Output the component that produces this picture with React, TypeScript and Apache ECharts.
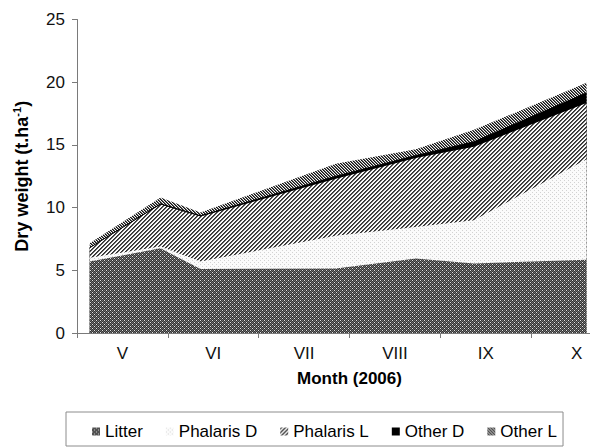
import { useEffect, useRef } from "react";
import * as echarts from "echarts";

// Month bands on the category axis
const months = ["V", "VI", "VII", "VIII", "IX", "X"];
// Sampling dates, expressed in months after 1 May 2006
const sampleMonths = [0.14, 0.92, 1.36, 2.85, 3.73, 4.37, 5.61];
// Dry weight per component (t/ha), stacked bottom to top
const litter = [5.7, 6.75, 5.1, 5.15, 5.95, 5.55, 5.85];
const phalarisD = [0.3, 0.15, 0.6, 2.6, 2.5, 3.45, 8.0];
const phalarisL = [0.8, 3.35, 3.6, 4.55, 5.5, 5.85, 4.5];
const otherD = [0.0, 0.05, 0.05, 0.2, 0.2, 0.4, 0.8];
const otherL = [0.35, 0.5, 0.25, 1.0, 0.5, 0.95, 0.8];
// Value axis range
const yMin = 0;
const yMax = 25;
const yStep = 5;

const FONT = "'Liberation Sans', Arial, Helvetica, sans-serif";
const AXIS_GRAY = "#7a7a7a";

// Builds a small repeating pixel tile used as a fill pattern
function tile(size: number, pick: (x: number, y: number) => string) {
  const c = document.createElement("canvas");
  c.width = size;
  c.height = size;
  const ctx = c.getContext("2d")!;
  for (let y = 0; y < size; y++) {
    for (let x = 0; x < size; x++) {
      ctx.fillStyle = pick(x, y);
      ctx.fillRect(x, y, 1, 1);
    }
  }
  return { image: c, repeat: "repeat", imageWidth: size, imageHeight: size } as any;
}

export default function App() {
  const ref = useRef<HTMLDivElement>(null);

  useEffect(() => {
    if (!ref.current) return;

    // dark mesh with light dots
    const litterFill = tile(4, (x, y) => {
      if ((x === 0 && y === 0) || (x === 2 && y === 2)) return "#e2e2e2";
      if ((x + y) % 2 === 1) return "#333333";
      return "#707070";
    });
    // faint dots
    const phalarisDFill = tile(4, (x, y) =>
      (x === 0 && y === 0) || (x === 2 && y === 2) ? "#d2d2d2" : "#fbfbfb"
    );
    // "/" diagonal hatch
    const phalarisLFill = tile(4, (x, y) => {
      const d = (x + y) % 4;
      if (d === 0) return "#2e2e2e";
      if (d === 1) return "#5a5a5a";
      return "#f8f8f8";
    });
    const otherDFill = "#000000";
    // "\" dense diagonal hatch
    const otherLFill = tile(3, (x, y) => {
      const d = (x - y + 3) % 3;
      if (d === 0) return "#111111";
      if (d === 1) return "#666666";
      return "#f4f4f4";
    });

    const names = ["Litter", "Phalaris D", "Phalaris L", "Other D", "Other L"];
    const layers = [litter, phalarisD, phalarisL, otherD, otherL];
    const fills = [litterFill, phalarisDFill, phalarisLFill, otherDFill, otherLFill];

    // cumulative tops of each layer; each area is filled from zero and the
    // upper layers are painted first so the lower ones sit on top of them
    const cumulative: number[][] = [];
    layers.forEach((vals, k) => {
      cumulative.push(vals.map((v, i) => (k ? cumulative[k - 1][i] : 0) + v));
    });

    const series = names
      .map((name, k) => ({
        name,
        type: "line",
        xAxisIndex: 1,
        symbol: "none",
        silent: true,
        z: 2,
        data: sampleMonths.map((m, i) => [m, +cumulative[k][i].toFixed(3)]),
        lineStyle: name === "Other D" ? { width: 1, color: "#000" } : { width: 0, opacity: 0 },
        itemStyle: { color: fills[k] },
        areaStyle: { color: fills[k], opacity: 1, origin: "start" },
        emphasis: { disabled: true },
      }))
      .reverse();

    const chart = echarts.init(ref.current, undefined, { renderer: "svg" });
    chart.setOption({
      animation: false,
      backgroundColor: "#ffffff",
      textStyle: { fontFamily: FONT },
      grid: {
        left: 77,
        right: -32,
        top: 19.5,
        bottom: 115,
        containLabel: false,
        outerBoundsMode: "none",
      },
      legend: {
        left: 66,
        top: 412,
        orient: "horizontal",
        padding: [11, 6, 6, 26],
        borderColor: "#8c8c8c",
        borderWidth: 1,
        itemGap: 23,
        itemWidth: 8,
        itemHeight: 8,
        icon: "rect",
        selectedMode: false,
        textStyle: { fontSize: 17, color: "#000", fontFamily: FONT },
        data: names.map((n, i) => ({
          name: n,
          itemStyle: { color: fills[i], borderWidth: 0 },
        })),
      },
      xAxis: [
        {
          type: "category",
          data: months,
          boundaryGap: true,
          position: "bottom",
          axisLine: { show: true, lineStyle: { color: AXIS_GRAY, width: 1 } },
          axisTick: { show: true, length: 5, interval: 0, lineStyle: { color: AXIS_GRAY } },
          axisLabel: { fontSize: 17, color: "#111", margin: 12, interval: 0, fontFamily: FONT },
          splitLine: { show: false },
          name: "Month (2006)",
          nameLocation: "middle",
          nameGap: 37,
          nameTextStyle: { fontSize: 17, fontWeight: "bold", color: "#000", fontFamily: FONT },
          z: 5,
        },
        { type: "value", min: 0, max: 6, show: false },
      ],
      yAxis: {
        type: "value",
        min: yMin,
        max: yMax,
        interval: yStep,
        axisLine: { show: true, lineStyle: { color: AXIS_GRAY, width: 1 } },
        axisTick: { show: true, length: 5, lineStyle: { color: AXIS_GRAY } },
        axisLabel: { fontSize: 17, color: "#111", margin: 12, fontFamily: FONT },
        splitLine: { show: false },
        name: "{t|Dry weight (t.ha}{s|-1}{t|)}",
        nameLocation: "middle",
        nameGap: 45,
        nameTextStyle: {
          rich: {
            t: { fontSize: 18, fontWeight: "bold", color: "#000", fontFamily: FONT },
            s: { fontSize: 11, fontWeight: "bold", color: "#000", fontFamily: FONT, padding: [0, 0, 10, 0] },
          },
        },
        z: 5,
      },
      series,
    });

    return () => chart.dispose();
  }, []);

  return (
    <div
      ref={ref}
      style={{ position: "absolute", left: 0, top: 0, width: 590, height: 448, background: "#fff" }}
    />
  );
}
